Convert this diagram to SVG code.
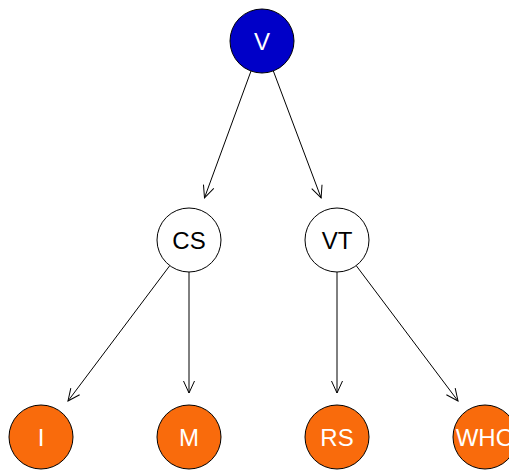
<svg xmlns="http://www.w3.org/2000/svg" width="509" height="470" viewBox="0 0 509 470">
<style>
.edge{stroke:#000;stroke-width:1;fill:none;marker-end:url(#arr)}
.node circle{stroke:#000;stroke-width:1}
.blue{fill:#0000C8}
.white{fill:#fff}
.orange{fill:#F96B0C}
text{font-family:"Liberation Sans",Arial,sans-serif;font-size:24px;text-anchor:middle}
.lw{fill:#fff}
.lb{fill:#000}
</style>
<defs>
<marker id="arr" markerUnits="userSpaceOnUse" markerWidth="30" markerHeight="30" refX="0" refY="0" viewBox="-15 -15 30 30" orient="auto">
<path d="M-12,-5.5 L0,0 L-12,5.5" fill="none" stroke="#000" stroke-width="1"/>
</marker>
</defs>
<rect width="509" height="470" fill="#fff"/>
<g id="connectors">
<line class="edge" x1="251" y1="71" x2="204.5" y2="197.8"/>
<line class="edge" x1="273.3" y1="70.9" x2="321.1" y2="197.9"/>
<line class="edge" x1="169.8" y1="265.6" x2="68" y2="401"/>
<line class="edge" x1="189" y1="272" x2="189" y2="393"/>
<line class="edge" x1="337" y1="272" x2="337" y2="393"/>
<line class="edge" x1="356.2" y1="265.6" x2="458" y2="401"/>
</g>
<g id="V" class="node"><circle class="blue" cx="262" cy="41" r="32"/><text class="lw" x="262" y="49.5">V</text></g>
<g id="CS" class="node"><circle class="white" cx="189" cy="240" r="32"/><text class="lb" x="189" y="248.5">CS</text></g>
<g id="VT" class="node"><circle class="white" cx="337" cy="240" r="32"/><text class="lb" x="337" y="248.5">VT</text></g>
<g id="I" class="node"><circle class="orange" cx="41" cy="437" r="32"/><text class="lw" x="41" y="445.5">I</text></g>
<g id="M" class="node"><circle class="orange" cx="189" cy="437" r="32"/><text class="lw" x="189" y="445.5">M</text></g>
<g id="RS" class="node"><circle class="orange" cx="337" cy="437" r="32"/><text class="lw" x="337" y="445.5">RS</text></g>
<g id="WHO" class="node"><circle class="orange" cx="485" cy="437" r="32"/><text class="lw" x="485" y="445.5">WHO</text></g>
</svg>
